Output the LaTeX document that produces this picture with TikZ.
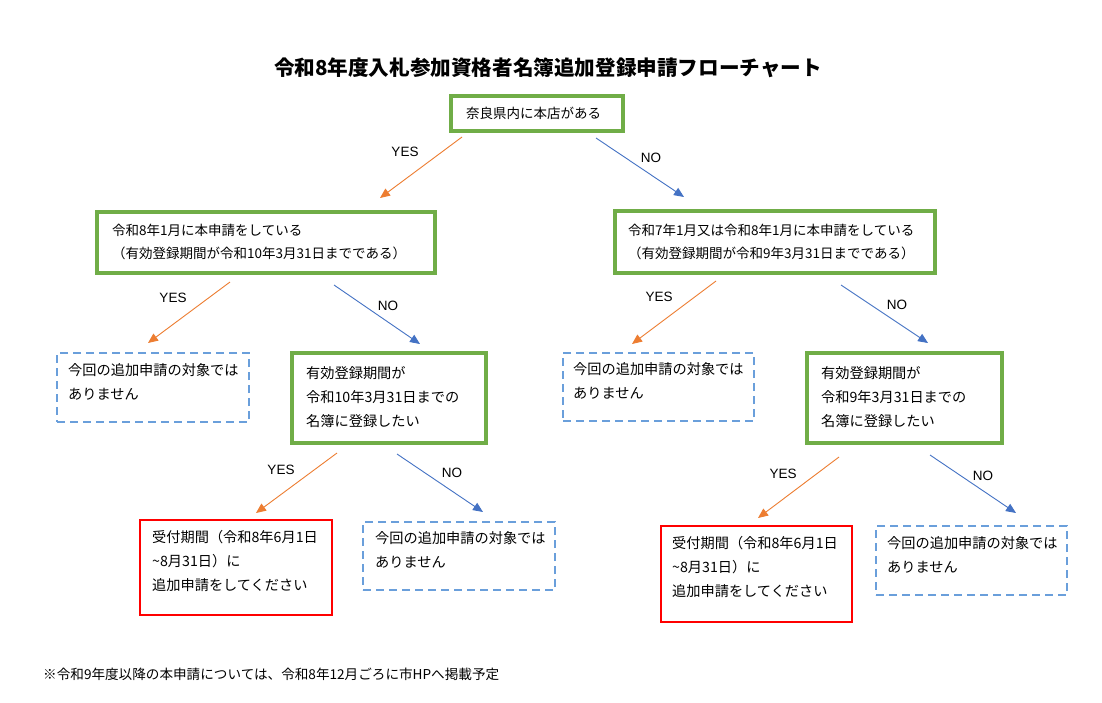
\documentclass[tikz,border=0pt]{standalone}
\usepackage{fontspec}
\setmainfont{Noto Sans CJK JP}
\newfontfamily\latinsans{Liberation Sans}
\usetikzlibrary{arrows.meta}
\definecolor{gboxc}{HTML}{70AD47}
\definecolor{rboxc}{HTML}{FF0000}
\definecolor{dboxc}{HTML}{6A9FDB}
\definecolor{yesc}{HTML}{ED7D31}
\definecolor{noc}{HTML}{4472C4}
\tikzset{
  gbox/.style={draw=gboxc, line width=4pt, inner sep=0pt},
  rbox/.style={draw=rboxc, line width=1.4pt, inner sep=0pt},
  dbox/.style={draw=dboxc, line width=1.5pt, dash pattern=on 8pt off 5pt, inner sep=0pt},
  txt/.style={anchor=west, inner sep=0pt, align=left, font=\fontsize{14.2}{24}\selectfont},
  txtb/.style={anchor=west, inner sep=0pt, align=left, font=\fontsize{13.5}{23}\selectfont},
  lbl/.style={inner sep=0pt, font=\latinsans\fontsize{13.5}{16}\selectfont},
  yesarrow/.style={draw=yesc, line width=0.9pt, -{Triangle[length=10pt,width=8.5pt]}},
  noarrow/.style={draw=noc, line width=0.9pt, -{Triangle[length=10pt,width=8.5pt]}},
}
\begin{document}
\begin{tikzpicture}[x=1pt,y=-1pt]
\useasboundingbox (0,0) rectangle (1102,702);
\fill[white] (0,0) rectangle (1102,702);

% title
\node[inner sep=0pt, font=\bfseries\fontsize{20.6}{24}\selectfont] (title) at (548,68) {令和8年度入札参加資格者名簿追加登録申請フローチャート};

% boxes
\node[gbox, minimum width=172pt, minimum height=35pt] (b1) at (537,113.5) {};
\node[gbox, minimum width=338pt, minimum height=61pt] (b2) at (266,242.5) {};
\node[gbox, minimum width=320pt, minimum height=62pt] (b3) at (775,242) {};
\node[dbox, minimum width=192pt, minimum height=69pt] (b4) at (153,387.5) {};
\node[gbox, minimum width=194pt, minimum height=90pt] (b5) at (389,398) {};
\node[dbox, minimum width=191pt, minimum height=68pt] (b6) at (658.5,387) {};
\node[gbox, minimum width=195pt, minimum height=90pt] (b7) at (904.5,398) {};
\node[rbox, minimum width=192pt, minimum height=95pt] (b8) at (236,567.5) {};
\node[dbox, minimum width=192pt, minimum height=68pt] (b9) at (459,556) {};
\node[rbox, minimum width=191pt, minimum height=96pt] (b10) at (756.5,574) {};
\node[dbox, minimum width=191pt, minimum height=69pt] (b11) at (971.5,560.5) {};

% texts
\node[txtb] (t1) at (466,113) {奈良県内に本店がある};
\node[txtb] (t2) at (112,241.5) {令和8年1月に本申請をしている\\（有効登録期間が令和10年3月31日までである）};
\node[txtb] (t3) at (628,241.5) {令和7年1月又は令和8年1月に本申請をしている\\（有効登録期間が令和9年3月31日までである）};
\node[txt] (t4) at (68,382) {今回の追加申請の対象では\\ありません};
\node[txt] (t5) at (306,397) {有効登録期間が\\令和10年3月31日までの\\名簿に登録したい};
\node[txt] (t6) at (573,381) {今回の追加申請の対象では\\ありません};
\node[txt] (t7) at (821,397) {有効登録期間が\\令和9年3月31日までの\\名簿に登録したい};
\node[txt] (t8) at (152,561) {受付期間（令和8年6月1日\\\textasciitilde 8月31日）に\\追加申請をしてください};
\node[txt] (t9) at (375,550) {今回の追加申請の対象では\\ありません};
\node[txt] (t10) at (672,567) {受付期間（令和8年6月1日\\\textasciitilde 8月31日）に\\追加申請をしてください};
\node[txt] (t11) at (887,555) {今回の追加申請の対象では\\ありません};

% footnote
\node[anchor=west, inner sep=0pt, font=\fontsize{13.6}{16}\selectfont] (foot) at (43,674) {※令和9年度以降の本申請については、令和8年12月ごろに市HPへ掲載予定};

% arrow end points
\coordinate (a1s) at (462,137); \coordinate (a1e) at (380,198);
\coordinate (a2s) at (596,138); \coordinate (a2e) at (684,197);
\coordinate (a3s) at (230,282); \coordinate (a3e) at (148,343);
\coordinate (a4s) at (334,285); \coordinate (a4e) at (420,344);
\coordinate (a5s) at (716,281); \coordinate (a5e) at (632,344);
\coordinate (a6s) at (841,285); \coordinate (a6e) at (928,343);
\coordinate (a7s) at (337,453); \coordinate (a7e) at (256,513);
\coordinate (a8s) at (397,454); \coordinate (a8e) at (483,512);
\coordinate (a9s) at (839,457); \coordinate (a9e) at (758,518);
\coordinate (a10s) at (930,455); \coordinate (a10e) at (1016,513);

\draw[yesarrow] (a1s) -- (a1e);
\draw[noarrow] (a2s) -- (a2e);
\draw[yesarrow] (a3s) -- (a3e);
\draw[noarrow] (a4s) -- (a4e);
\draw[yesarrow] (a5s) -- (a5e);
\draw[noarrow] (a6s) -- (a6e);
\draw[yesarrow] (a7s) -- (a7e);
\draw[noarrow] (a8s) -- (a8e);
\draw[yesarrow] (a9s) -- (a9e);
\draw[noarrow] (a10s) -- (a10e);

% labels
\node[lbl] (l1) at (405,152) {YES};
\node[lbl] (l2) at (651,158) {NO};
\node[lbl] (l3) at (173,298) {YES};
\node[lbl] (l4) at (388,306) {NO};
\node[lbl] (l5) at (659,297) {YES};
\node[lbl] (l6) at (897,305) {NO};
\node[lbl] (l7) at (281,470) {YES};
\node[lbl] (l8) at (452,473) {NO};
\node[lbl] (l9) at (783,474) {YES};
\node[lbl] (l10) at (983,476) {NO};
\end{tikzpicture}
\end{document}
